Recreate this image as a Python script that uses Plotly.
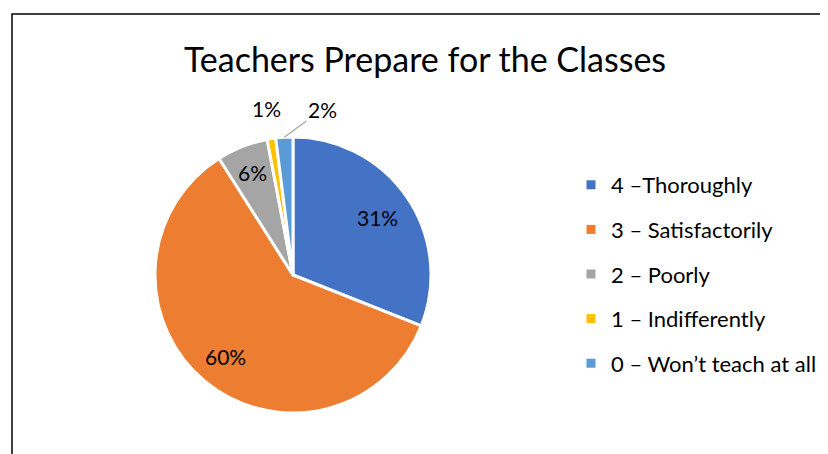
import math
import plotly.graph_objects as go

labels = ["4 \u2013Thoroughly", "3 \u2013 Satisfactorily", "2 \u2013 Poorly", "1 \u2013 Indifferently", "0 \u2013 Won\u2019t teach at all"]
values = [31, 60, 6, 1, 2]
colors = ["#4472C4", "#ED7D31", "#A5A5A5", "#FFC000", "#5B9BD5"]
title = "Teachers Prepare for the Classes"

W, H = 828, 454
FONT = "Lato"
OFF = 8  # page body margin
CX, CY, R = 293 - OFF, 275 - OFF, 138  # pie centre / radius in px (figure coords)


def px2paper(x, y):
    return x / W, 1 - y / H


fig = go.Figure()
fig.add_trace(go.Pie(
    labels=labels, values=values, sort=False, direction="clockwise", rotation=0,
    marker=dict(colors=colors, line=dict(color="white", width=3)),
    textinfo="none",
    domain=dict(x=[(CX - R) / W, (CX + R) / W], y=[1 - (CY + R) / H, 1 - (CY - R) / H]),
    showlegend=False, hoverinfo="label+percent",
))

for lab, col in zip(labels, colors):
    fig.add_trace(go.Scatter(
        x=[None], y=[None], mode="markers", name=lab, legendgroup=lab,
        marker=dict(symbol="square", size=9, color=col),
        showlegend=True,
    ))

# data labels derived from slice angles
total = sum(values)
annotations = []
cum = 0
lab_font = dict(family=FONT, size=21, color="#000000")
radial = [0.74, 0.77, 0.80]
for i, v in enumerate(values):
    frac = v / total
    mid = (cum + frac / 2) * 2 * math.pi
    cum += frac
    txt = f"{round(frac * 100)}%"
    sx, sy = math.sin(mid), math.cos(mid)
    if frac >= 0.05:
        rr = radial[i] * R
        x, y = px2paper(CX + rr * sx, CY - rr * sy)
        annotations.append(dict(text=txt, x=x, y=y, xref="paper", yref="paper",
                                xanchor="center", yanchor="middle",
                                showarrow=False, font=lab_font))
    elif i == 3:
        rr = 1.22 * R
        x, y = px2paper(CX + rr * sx, CY - rr * sy)
        annotations.append(dict(text=txt, x=x, y=y, xref="paper", yref="paper",
                                xanchor="center", yanchor="middle",
                                showarrow=False, font=lab_font))
    else:
        x, y = px2paper(CX + R * sx, CY - R * sy)
        annotations.append(dict(text=txt, x=x, y=y, xref="paper", yref="paper",
                                showarrow=True, arrowhead=0, arrowwidth=1.3, arrowcolor="#A5A5A5",
                                ax=38, ay=-28, standoff=0, font=lab_font))

fig.update_layout(
    width=W, height=H,
    margin=dict(l=0, r=0, t=0, b=0),
    paper_bgcolor="white", plot_bgcolor="white",
    title=dict(text=title, x=(425 - OFF) / W, xanchor="center", y=1 - (60 - OFF) / H, yanchor="middle",
               font=dict(family=FONT, size=34, color="#000000")),
    xaxis=dict(visible=False), yaxis=dict(visible=False),
    legend=dict(x=(571 - OFF) / W, xanchor="left", y=1 - (164 - OFF) / H, yanchor="top",
                font=dict(family=FONT, size=22, color="#000000"),
                tracegroupgap=13, bgcolor="rgba(0,0,0,0)"),
    annotations=annotations,
    shapes=[dict(type="rect", xref="paper", yref="paper",
                 x0=(12 - OFF) / W, x1=1.05, y0=-0.05, y1=1 - (14 - OFF) / H,
                 line=dict(color="black", width=1.5), layer="above")],
)

fig.write_html("out.html")
